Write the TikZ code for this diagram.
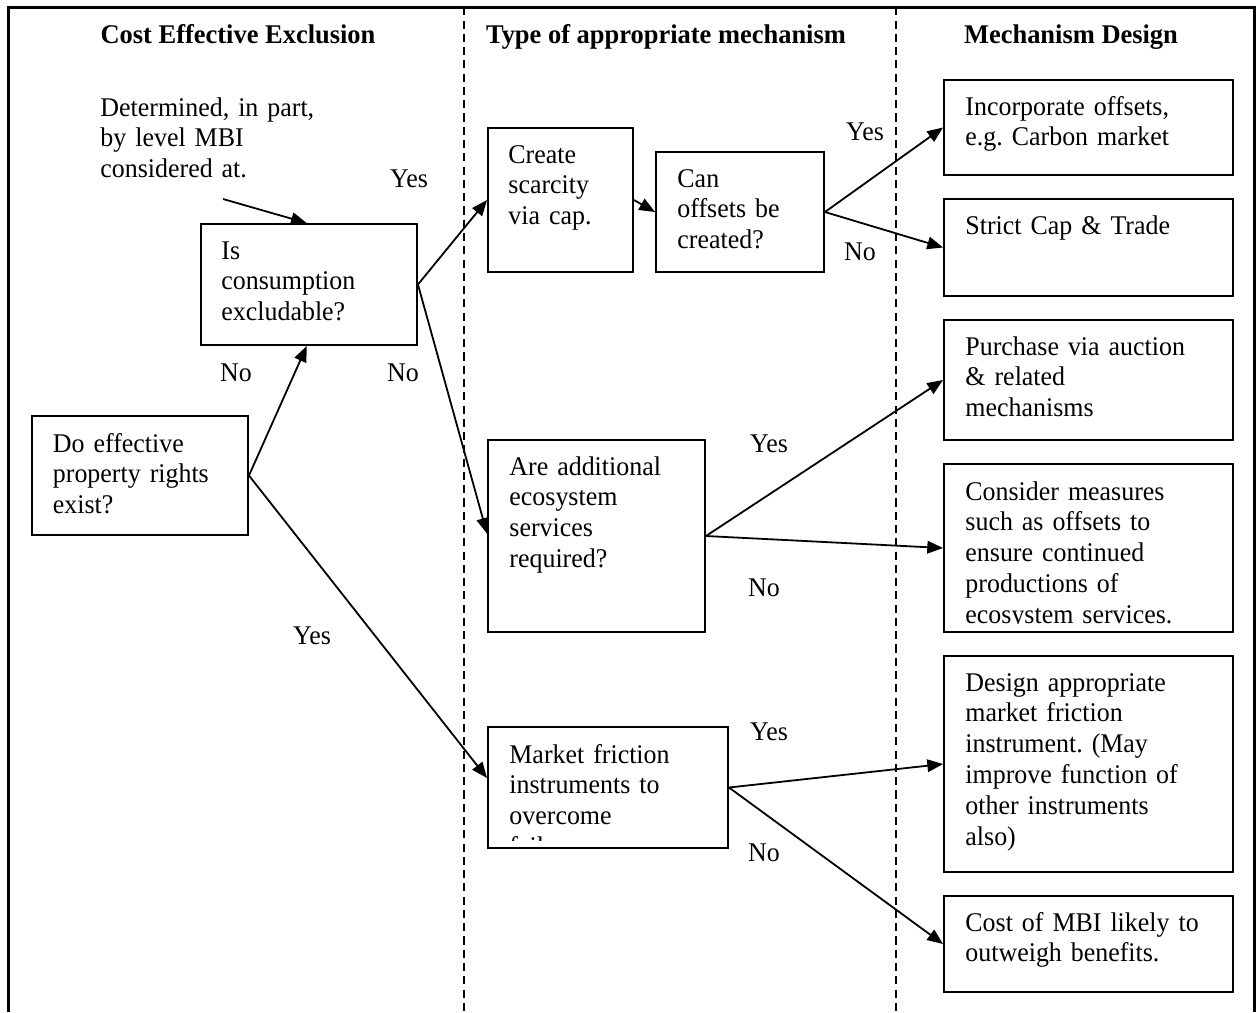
\documentclass[tikz,border=0pt]{standalone}
\usepackage{fontspec}
\setmainfont{Liberation Serif}[FakeStretch=0.96,WordSpace=0.8]
\newfontfamily\headfont{Liberation Serif}[FakeStretch=0.98]
\frenchspacing
\usetikzlibrary{arrows.meta,fit,calc}
\begin{document}
\begin{tikzpicture}[x=0.4445pt,y=-0.4445pt,
  frame/.style={line width=1.2pt},
  divider/.style={line width=0.55pt, dash pattern=on 3.6pt off 2.3pt},
  box/.style={draw, line width=0.85pt, inner sep=0pt},
  txt/.style={anchor=base west, inner sep=0pt, align=left, text width=140pt,
              font=\fontsize{12pt}{13.7pt}\selectfont},
  head/.style={anchor=base, inner sep=0pt, font=\headfont\fontsize{12pt}{13.7pt}\selectfont\bfseries},
  lbl/.style={anchor=base, inner sep=0pt, font=\fontsize{12pt}{13.7pt}\selectfont},
  conn/.style={line width=0.8pt, -{Triangle[length=7pt,width=5.6pt]}},
]
\useasboundingbox (0,0) rectangle (1259,1012);

% open outer frame and column dividers
\draw[frame] (8.7,1012) -- (8.7,7.3) -- (1254.5,7.3) -- (1254.5,1012);
\draw[divider] (464,7.3) -- (464,1012);
\draw[divider] (896,7.3) -- (896,1012);

% column headings
\node[head] (h1) at (238,43) {Cost Effective Exclusion};
\node[head] (h2) at (666,43) {Type of appropriate mechanism};
\node[head] (h3) at (1071,43) {Mechanism Design};

% boxes
\node[box, fit={(32,416) (248,535)}] (do) {};
\node[box, fit={(201,224) (417,345)}] (is) {};
\node[box, fit={(488,128) (633,272)}] (create) {};
\node[box, fit={(656,152) (824,272)}] (can) {};
\node[box, fit={(944,80) (1233,175)}] (inc) {};
\node[box, fit={(944,199) (1233,296)}] (strict) {};
\node[box, fit={(944,320) (1233,440)}] (purchase) {};
\node[box, fit={(488,440) (705,632)}] (are) {};
\node[box, fit={(944,464) (1233,632)}] (consider) {};
\node[box, fit={(488,727) (728,848)}] (mf) {};
\node[box, fit={(944,656) (1233,872)}] (design) {};
\node[box, fit={(944,896) (1233,992)}] (cost) {};

% box texts
\node[txt] (note-t) at (100,116) {Determined, in part,\\by level MBI\\considered at.};
\node[txt] (do-t) at (52.5,452) {Do effective\\property rights\\exist?};
\node[txt] (is-t) at (221,259) {Is\\consumption\\excludable?};
\node[txt] (create-t) at (508,163) {Create\\scarcity\\via cap.};
\node[txt] (can-t) at (677,187) {Can\\offsets be\\created?};
\node[txt] (inc-t) at (965,115) {Incorporate offsets,\\e.g. Carbon market};
\node[txt] (strict-t) at (965,234) {Strict Cap \& Trade};
\node[txt] (purchase-t) at (965,355) {Purchase via auction\\\& related\\mechanisms};
\node[txt] (are-t) at (509,475) {Are additional\\ecosystem\\services\\required?};
\begin{scope}
  \clip (945,465) rectangle (1232,623);
  \node[txt] (consider-t) at (965,500) {Consider measures\\such as offsets to\\ensure continued\\productions of\\ecosystem services.};
\end{scope}
\begin{scope}
  \clip (489,728) rectangle (727,840);
  \node[txt] (mf-t) at (509,763) {Market friction\\instruments to\\overcome\\failure};
\end{scope}
\node[txt] (design-t) at (965,691) {Design appropriate\\market friction\\instrument. (May\\improve function of\\other instruments\\also)};
\node[txt] (cost-t) at (965,931) {Cost of MBI likely to\\outweigh benefits.};

% branch labels
\node[lbl] (l1) at (409,187) {Yes};
\node[lbl] (l2) at (236,381) {No};
\node[lbl] (l3) at (403,381) {No};
\node[lbl] (l4) at (865,140) {Yes};
\node[lbl] (l5) at (860,260) {No};
\node[lbl] (l6) at (769,452) {Yes};
\node[lbl] (l7) at (764,596) {No};
\node[lbl] (l8) at (312,644) {Yes};
\node[lbl] (l9) at (769,740) {Yes};
\node[lbl] (l10) at (764,861) {No};

% connectors
\coordinate (note) at (223,199);
\draw[conn] (note) -- ([xshift=-1pt]is.north);
\draw[conn] (do.east) -- ([xshift=-1pt]is.south);
\draw[conn] (do.east) -- ([yshift=4.2pt]mf.west);
\draw[conn] (is.east) -- (create.west);
\draw[conn] (is.east) -- ([yshift=1pt]are.west);
\draw[conn] (create.east) -- (can.west);
\draw[conn] (can.east) -- (inc.west);
\draw[conn] (can.east) -- (strict.west);
\draw[conn] (are.east) -- (purchase.west);
\draw[conn] (are.east) -- (consider.west);
\draw[conn] (mf.east) -- (design.west);
\draw[conn] (mf.east) -- (cost.west);
\end{tikzpicture}
\end{document}
